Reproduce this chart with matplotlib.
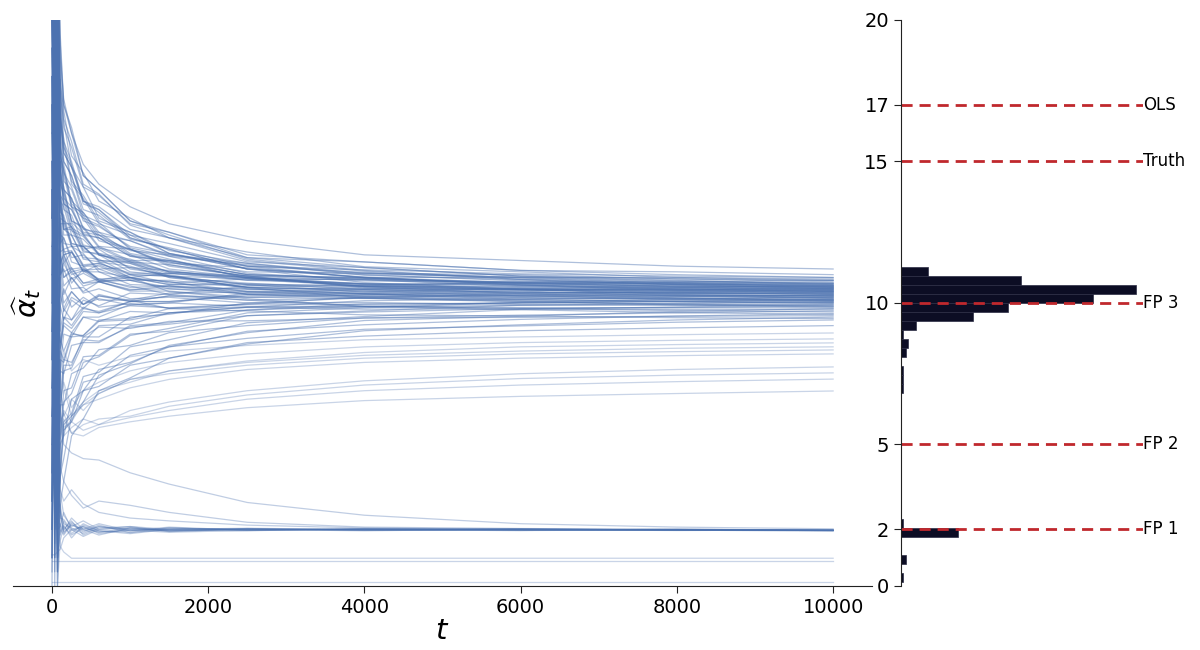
import numpy as np
import matplotlib.pyplot as plt

# sample times of the trajectories
t_grid = [0, 35, 70, 105, 150, 250, 400, 600, 1000, 1500, 2500, 4000, 6000, 8000, 10000]

# main band, ends between ~9.2 and ~11.2 (each row: values at t=35, 105, 150 ... 10000)
main_paths = [
    [21, 18.7, 17.2, 16.0, 14.9, 14.2, 13.4, 12.8, 12.2, 11.7, 11.5, 11.3, 11.2],
    [9, 16.6, 15.3, 14.8, 13.6, 13.4, 12.6, 12.3, 11.6, 11.45, 11.15, 11.1, 11.0],
    [23, 17.9, 16.2, 15.5, 14.1, 13.8, 12.8, 12.5, 11.7, 11.45, 11.15, 11.0, 10.9],
    [4, 13.6, 12.6, 12.7, 11.9, 12.0, 11.5, 11.5, 11.1, 11.05, 10.9, 10.9, 10.85],
    [17, 15.0, 14.5, 13.4, 13.2, 12.4, 12.2, 11.7, 11.4, 11.05, 11.0, 10.85, 10.8],
    [12, 8.6, 9.5, 9.4, 10.1, 9.9, 10.35, 10.3, 10.6, 10.6, 10.75, 10.75, 10.8],
    [2, 16.9, 15.3, 14.8, 13.5, 13.3, 12.4, 12.1, 11.45, 11.25, 10.95, 10.85, 10.75],
    [19, 12.3, 11.4, 11.8, 11.1, 11.35, 10.9, 11.05, 10.8, 10.85, 10.7, 10.72, 10.7],
    [7, 14.2, 13.9, 12.9, 12.7, 12.0, 11.9, 11.4, 11.25, 10.9, 10.9, 10.75, 10.7],
    [14, 19.2, 17.0, 16.0, 14.5, 14.0, 12.9, 12.5, 11.6, 11.25, 10.95, 10.8, 10.65],
    [5, 10.8, 11.6, 10.7, 11.2, 10.8, 11.0, 10.7, 10.85, 10.65, 10.7, 10.66, 10.65],
    [22, 13.9, 12.8, 12.8, 12.0, 11.95, 11.45, 11.35, 10.95, 10.9, 10.72, 10.67, 10.62],
    [11, 15.9, 14.3, 14.0, 12.9, 12.7, 12.0, 11.75, 11.2, 11.0, 10.78, 10.68, 10.6],
    [16, 7.7, 8.9, 8.8, 9.5, 9.5, 9.95, 10.0, 10.35, 10.38, 10.52, 10.56, 10.6],
    [3, 12.1, 12.3, 11.6, 11.7, 11.2, 11.25, 10.95, 10.85, 10.68, 10.66, 10.6, 10.58],
    [20, 16.5, 15.8, 14.3, 13.8, 12.9, 12.5, 11.85, 11.4, 10.98, 10.82, 10.65, 10.55],
    [8, 14.8, 13.5, 13.3, 12.4, 12.3, 11.65, 11.45, 11.0, 10.88, 10.68, 10.6, 10.55],
    [13, 9.9, 9.4, 10.1, 9.8, 10.25, 10.1, 10.35, 10.38, 10.47, 10.47, 10.5, 10.52],
    [18, 13.0, 12.9, 12.1, 12.0, 11.5, 11.4, 11.05, 10.9, 10.68, 10.62, 10.55, 10.5],
    [6, 19.5, 17.0, 16.2, 14.5, 14.0, 12.9, 12.4, 11.55, 11.15, 10.83, 10.65, 10.5],
    [1, 11.2, 10.3, 10.9, 10.4, 10.75, 10.45, 10.6, 10.48, 10.52, 10.49, 10.48, 10.48],
    [24, 15.5, 14.0, 13.7, 12.6, 12.5, 11.75, 11.5, 11.0, 10.83, 10.63, 10.55, 10.45],
    [10, 6.2, 7.8, 7.8, 8.8, 8.8, 9.5, 9.6, 10.0, 10.18, 10.32, 10.4, 10.45],
    [15, 12.9, 11.9, 12.0, 11.35, 11.4, 11.0, 10.95, 10.65, 10.62, 10.48, 10.45, 10.42],
    [0.5, 16.2, 14.6, 14.1, 13.0, 12.75, 11.95, 11.65, 11.05, 10.82, 10.58, 10.5, 10.4],
    [21, 8.4, 9.5, 9.2, 9.8, 9.7, 10.05, 10.05, 10.25, 10.28, 10.36, 10.38, 10.4],
    [9.5, 13.6, 13.4, 12.4, 12.25, 11.7, 11.5, 11.1, 10.9, 10.62, 10.52, 10.44, 10.38],
    [17.5, 17.6, 15.7, 15.0, 13.6, 13.3, 12.3, 11.9, 11.2, 10.9, 10.63, 10.45, 10.35],
    [4.5, 11.7, 10.9, 11.2, 10.7, 10.85, 10.55, 10.6, 10.42, 10.42, 10.36, 10.35, 10.33],
    [12.5, 14.4, 14.0, 12.9, 12.65, 11.95, 11.7, 11.2, 10.9, 10.58, 10.47, 10.37, 10.3],
    [2.5, 7.6, 7.5, 8.5, 8.6, 9.2, 9.25, 9.65, 9.85, 10.08, 10.14, 10.23, 10.28],
    [19.5, 11.4, 11.7, 11.0, 11.15, 10.75, 10.8, 10.55, 10.5, 10.33, 10.31, 10.27, 10.25],
    [7.5, 15.2, 14.7, 13.4, 13.0, 12.2, 11.9, 11.35, 10.95, 10.58, 10.47, 10.33, 10.25],
    [14.5, 4.8, 6.5, 6.8, 7.9, 8.1, 8.85, 9.1, 9.65, 9.83, 10.02, 10.14, 10.22],
    [23.5, 13.5, 12.4, 12.4, 11.6, 11.55, 11.0, 10.95, 10.55, 10.47, 10.31, 10.25, 10.2],
    [11.5, 17.4, 16.4, 14.8, 14.1, 13.0, 12.5, 11.75, 11.2, 10.72, 10.48, 10.3, 10.18],
    [6.5, 10.6, 9.8, 10.4, 9.95, 10.3, 10.05, 10.25, 10.1, 10.18, 10.14, 10.16, 10.15],
    [16.5, 14.1, 12.9, 12.7, 11.85, 11.7, 11.1, 10.95, 10.55, 10.42, 10.25, 10.18, 10.12],
    [20.5, 8.3, 8.0, 8.9, 8.85, 9.35, 9.4, 9.65, 9.75, 9.97, 9.99, 10.06, 10.1],
    [3.5, 11.8, 11.9, 11.2, 11.25, 10.8, 10.8, 10.5, 10.4, 10.23, 10.19, 10.13, 10.1],
    [13.5, 16.9, 15.0, 14.5, 13.1, 12.85, 11.9, 11.55, 10.85, 10.58, 10.33, 10.18, 10.08],
    [8.5, 5.3, 6.9, 7.0, 8.1, 8.15, 8.9, 9.0, 9.55, 9.72, 9.92, 9.98, 10.05],
    [22.5, 12.8, 11.8, 11.85, 11.1, 11.1, 10.65, 10.6, 10.3, 10.22, 10.11, 10.07, 10.03],
    [1.5, 9.0, 9.8, 9.4, 9.85, 9.65, 9.9, 9.83, 9.96, 9.95, 10.0, 10.0, 10.01],
    [18.5, 14.8, 13.3, 13.1, 12.05, 11.9, 11.2, 11.0, 10.5, 10.32, 10.13, 10.05, 9.98],
    [10.5, 4.0, 5.8, 6.1, 7.4, 7.55, 8.45, 8.7, 9.3, 9.52, 9.77, 9.86, 9.95],
    [5.5, 11.5, 10.6, 10.9, 10.35, 10.5, 10.15, 10.2, 10.0, 10.02, 9.94, 9.92, 9.9],
    [15.5, 6.7, 8.0, 7.9, 8.7, 8.65, 9.15, 9.25, 9.55, 9.68, 9.8, 9.84, 9.88],
    [0, 14.6, 14.1, 12.85, 12.45, 11.7, 11.4, 10.9, 10.55, 10.18, 10.06, 9.93, 9.85],
    [19, 3.9, 4.5, 6.0, 6.5, 7.45, 7.85, 8.5, 8.95, 9.38, 9.53, 9.7, 9.8],
    [12, 9.9, 10.5, 9.85, 10.2, 9.85, 9.98, 9.82, 9.84, 9.78, 9.79, 9.77, 9.76],
    [3, 6.4, 6.4, 7.5, 7.7, 8.35, 8.5, 8.95, 9.2, 9.47, 9.57, 9.65, 9.72],
    [24, 12.4, 12.3, 11.45, 11.3, 10.8, 10.6, 10.3, 10.1, 9.88, 9.81, 9.73, 9.68],
    [7, 4.1, 5.7, 6.0, 7.2, 7.35, 8.15, 8.45, 9.0, 9.23, 9.42, 9.54, 9.62],
    [17, 8.7, 8.3, 8.95, 8.8, 9.15, 9.1, 9.35, 9.37, 9.47, 9.49, 9.53, 9.55],
    [11, 2.9, 3.7, 5.3, 5.9, 6.9, 7.35, 8.05, 8.55, 9.02, 9.23, 9.4, 9.5],
    [21.5, 11.0, 11.2, 10.5, 10.55, 10.1, 10.1, 9.8, 9.72, 9.58, 9.54, 9.48, 9.45],
    [14, 5.0, 5.3, 6.6, 6.9, 7.65, 7.9, 8.45, 8.75, 9.07, 9.19, 9.32, 9.4],
    [2, 3.8, 5.5, 5.8, 6.9, 7.05, 7.8, 8.05, 8.6, 8.83, 9.02, 9.12, 9.2],
    [18, 14.7, 13.5, 13.3, 12.5, 12.4, 11.85, 11.7, 11.3, 11.17, 11.03, 10.95, 10.9],
    [23, 17.8, 16.8, 15.2, 14.6, 13.6, 13.0, 12.3, 11.8, 11.28, 11.1, 10.9, 10.8],
    [9, 15.2, 14.7, 13.6, 13.2, 12.5, 12.2, 11.65, 11.35, 11.03, 10.92, 10.78, 10.7],
    [2, 12.5, 11.7, 11.8, 11.3, 11.4, 11.05, 11.05, 10.87, 10.82, 10.74, 10.7, 10.68],
    [16, 16.7, 15.0, 14.5, 13.3, 13.1, 12.25, 11.95, 11.3, 11.08, 10.84, 10.72, 10.63],
    [11, 12.8, 12.8, 12.0, 12.0, 11.5, 11.45, 11.1, 10.95, 10.78, 10.72, 10.64, 10.6],
    [20, 18.6, 16.5, 15.7, 14.2, 13.85, 12.75, 12.3, 11.5, 11.12, 10.88, 10.7, 10.57],
    [6, 11.0, 11.4, 10.85, 11.05, 10.75, 10.9, 10.65, 10.68, 10.58, 10.59, 10.56, 10.55],
    [25, 15.0, 13.7, 13.4, 12.45, 12.3, 11.65, 11.5, 11.0, 10.87, 10.68, 10.6, 10.52],
    [13, 8.3, 9.3, 9.1, 9.7, 9.65, 10.05, 10.05, 10.3, 10.33, 10.43, 10.47, 10.5],
    [3, 16.3, 15.6, 14.2, 13.7, 12.8, 12.4, 11.75, 11.3, 10.88, 10.72, 10.57, 10.47],
    [17, 13.7, 12.6, 12.6, 11.8, 11.75, 11.25, 11.15, 10.8, 10.67, 10.54, 10.5, 10.45],
    [8, 11.4, 11.7, 11.1, 11.2, 10.85, 10.9, 10.65, 10.63, 10.52, 10.47, 10.45, 10.43],
    [22, 17.4, 15.5, 14.9, 13.6, 13.2, 12.3, 11.9, 11.2, 10.92, 10.64, 10.5, 10.4],
    [12, 8.0, 7.9, 8.8, 8.85, 9.4, 9.45, 9.8, 9.95, 10.22, 10.25, 10.33, 10.37],
    [4, 13.8, 13.6, 12.55, 12.35, 11.75, 11.55, 11.1, 10.9, 10.58, 10.51, 10.41, 10.35],
    [19, 12.6, 11.7, 11.8, 11.15, 11.2, 10.8, 10.8, 10.55, 10.47, 10.38, 10.35, 10.32],
    [10, 15.6, 14.0, 13.7, 12.65, 12.4, 11.7, 11.45, 10.9, 10.67, 10.48, 10.38, 10.3],
    [15, 10.3, 9.7, 10.2, 9.95, 10.25, 10.05, 10.25, 10.2, 10.27, 10.25, 10.27, 10.27],
    [21, 13.2, 13.1, 12.1, 12.0, 11.45, 11.3, 10.9, 10.7, 10.48, 10.38, 10.29, 10.24],
    [1, 11.7, 10.9, 11.1, 10.6, 10.75, 10.48, 10.5, 10.32, 10.31, 10.24, 10.22, 10.2],
    [14, 15.5, 14.9, 13.5, 13.1, 12.3, 11.9, 11.3, 10.95, 10.53, 10.42, 10.25, 10.16],
    [7, 6.2, 7.6, 7.7, 8.6, 8.6, 9.2, 9.3, 9.75, 9.88, 10.02, 10.07, 10.13],
    [24, 13.1, 12.1, 12.05, 11.3, 11.3, 10.85, 10.75, 10.4, 10.32, 10.19, 10.14, 10.1],
    [9, 14.2, 13.8, 12.65, 12.4, 11.7, 11.45, 10.95, 10.65, 10.38, 10.26, 10.13, 10.06],
    [16, 11.9, 11.1, 11.25, 10.7, 10.75, 10.42, 10.42, 10.2, 10.16, 10.08, 10.05, 10.02],
    [5, 8.4, 9.2, 8.95, 9.5, 9.35, 9.7, 9.65, 9.85, 9.85, 9.92, 9.94, 9.96],
    [18, 13.8, 12.6, 12.4, 11.55, 11.45, 10.9, 10.75, 10.3, 10.17, 10.04, 9.96, 9.9],
    [11, 10.9, 10.0, 10.4, 9.95, 10.15, 9.92, 10.0, 9.88, 9.88, 9.84, 9.83, 9.82],
    [20, 13.3, 13.0, 12.0, 11.75, 11.1, 10.9, 10.4, 10.15, 9.88, 9.76, 9.66, 9.6],
]
main_t0 = [24, 5, 16, 22, 10, 1, 19, 7, 25, 13, 18, 3, 21, 9, 15, 23, 6, 12, 20, 2,
           17, 8, 24, 11, 14, 4, 22, 0.5, 18, 9, 25, 13, 6, 20, 3, 16, 10, 23, 1, 14,
           19, 7, 21, 12, 4, 17, 24, 8, 15, 2, 20, 11, 6, 22, 13, 18, 3, 9, 25,
           12, 4, 21, 15, 8, 24, 1, 17, 10, 19, 5, 23, 14, 0, 20, 7, 16, 25, 3, 11,
           18, 6, 22, 13, 2, 20, 9, 24, 15, 7]
main_t70 = [22, 18, 12, 15, 6, 20, 24, 3, 16, 23, 9, 11, 21, 2, 17, 13, 22, 5, 8, 25,
            14, 19, 1, 10, 20, 7, 18, 21, 4, 16, 6, 12, 23, 0.5, 15, 24, 11, 19, 3, 13,
            22, 1.5, 9, 17, 20, 2.5, 14, 5, 21, 0, 8, 4, 18, 1, 10, 0.5, 16, 2, 3,
            21, 20, 17, 11, 22, 6, 24, 13, 15, 4, 19, 9, 18, 23, 2, 16, 7, 20, 12, 14,
            8, 21, 3, 12, 19, 6, 10, 17, 7, 15]

# slow group, ends between ~6.9 and ~8.9
mid_paths = [
    [12, 7.5, 8.3, 7.6, 8.0, 7.8, 8.1, 8.3, 8.5, 8.7, 8.8, 8.88, 8.94],
    [3, 6.5, 7.2, 6.3, 6.9, 7.2, 7.6, 7.9, 8.2, 8.45, 8.6, 8.68, 8.73],
    [16, 8.8, 7.0, 6.0, 6.4, 6.8, 7.3, 7.6, 7.95, 8.25, 8.45, 8.53, 8.59],
    [6, 5.5, 6.2, 5.8, 6.5, 6.9, 7.2, 7.6, 7.9, 8.15, 8.3, 8.4, 8.45],
    [14, 7.0, 6.0, 6.6, 6.2, 6.8, 7.3, 7.5, 7.8, 8.05, 8.2, 8.28, 8.34],
    [9, 6.2, 5.5, 5.9, 6.4, 6.6, 7.0, 7.3, 7.65, 7.9, 8.05, 8.14, 8.2],
    [2, 6.0, 5.3, 5.6, 5.9, 5.7, 6.2, 6.5, 6.9, 7.25, 7.5, 7.65, 7.74],
    [11, 5.8, 6.1, 5.4, 5.7, 5.9, 6.0, 6.35, 6.75, 7.1, 7.33, 7.45, 7.53],
    [18, 7.2, 5.6, 5.8, 5.5, 5.7, 5.95, 6.2, 6.6, 6.9, 7.1, 7.22, 7.31],
    [5, 5.2, 5.9, 5.4, 5.3, 5.6, 5.8, 6.0, 6.3, 6.55, 6.7, 6.8, 6.89],
]
mid_t0 = [18, 6, 23, 11, 2, 15, 21, 8, 13, 25]
mid_t70 = [5, 14, 9, 3, 10, 4, 8, 2, 12, 7]

# lower cluster around 2
low_paths = [
    [12, 6.0, 5.0, 4.7, 4.5, 4.45, 4.0, 3.6, 2.95, 2.5, 2.2, 2.08, 2.02],
    [8, 4.2, 3.7, 3.2, 2.75, 3.0, 2.85, 2.6, 2.25, 2.08, 2.03, 2.0, 1.98],
    [5, 3.4, 3.0, 3.4, 2.9, 2.6, 2.4, 2.3, 2.15, 2.05, 2.0, 1.98, 1.97],
    [14, 2.6, 2.2, 2.05, 1.85, 2.1, 1.95, 2.05, 1.98, 2.02, 1.97, 2.0, 1.97],
    [6, 2.2, 1.9, 2.15, 2.0, 1.8, 2.05, 1.95, 2.03, 1.97, 2.0, 1.98, 1.96],
    [20, 1.8, 2.3, 1.85, 2.2, 1.95, 1.9, 2.05, 1.97, 2.0, 2.02, 1.97, 1.95],
    [9, 2.9, 2.0, 2.3, 1.8, 2.05, 2.1, 1.92, 2.02, 1.98, 1.96, 2.01, 1.97],
    [3, 2.4, 2.35, 1.95, 2.1, 1.85, 2.0, 1.98, 1.95, 2.03, 1.99, 1.96, 1.98],
    [17, 2.0, 1.8, 2.2, 1.9, 2.15, 1.88, 2.02, 2.0, 1.95, 2.01, 1.99, 1.96],
    [11, 3.3, 2.5, 2.1, 2.3, 2.0, 2.1, 2.0, 2.04, 1.99, 1.97, 2.0, 1.97],
    [7, 1.6, 2.1, 1.8, 2.05, 1.9, 1.97, 1.9, 1.96, 2.0, 1.98, 1.97, 1.95],
    [22, 2.5, 1.95, 2.4, 2.0, 2.2, 1.95, 2.08, 1.97, 2.01, 2.0, 1.98, 1.96],
    [4, 2.1, 2.6, 2.0, 1.75, 2.0, 2.05, 1.96, 2.0, 1.97, 2.02, 1.99, 1.97],
    [13, 1.9, 2.15, 1.7, 2.15, 1.95, 1.85, 2.0, 2.02, 1.98, 1.96, 1.98, 1.96],
    [1, 2.7, 1.85, 2.25, 1.95, 2.1, 2.0, 1.94, 1.99, 2.02, 1.99, 1.97, 1.97],
    [1.1, 1.3, 1.7, 2.0, 2.1, 1.9, 2.05, 1.98, 2.01, 1.98, 2.0, 1.97, 1.96],
]
low_t0 = [14, 3, 20, 9, 24, 1, 17, 12, 22, 5, 19, 10, 25, 7, 16, 1.1]
low_t70 = [9, 6, 7, 4, 1, 5, 0.5, 6, 3, 8, 0, 4, 2, 1, 5, 1.2]

# paths stuck below the cluster
flat_paths = [
    [6, 1.4, 1.2, 0.98, 0.98, 0.98, 0.98, 0.98, 0.98, 0.98, 0.98, 0.98, 0.98],
    [0.87, 0.87, 0.87, 0.87, 0.87, 0.87, 0.87, 0.87, 0.87, 0.87, 0.87, 0.87, 0.87],
    [0.15, 0.15, 0.15, 0.15, 0.15, 0.15, 0.15, 0.15, 0.15, 0.15, 0.15, 0.15, 0.15],
]
flat_t0 = [13, 0.87, 0.15]
flat_t70 = [3, 0.87, 0.15]

# histogram of the final values
hist_lo = 0.157
hist_bw = 0.3172
hist_counts = [1, 0, 2, 0, 0, 23, 1, 0, 0, 0, 0, 0, 0, 0, 0, 0, 0, 0, 0, 0,
               0, 1, 1, 1, 0, 2, 3, 1, 6, 29, 43, 77, 94, 48, 11]

ref_values = [17, 15, 10, 5, 2]
ref_labels = ["OLS", "Truth", "FP 3", "FP 2", "FP 1"]
y_ticks = [0, 2, 5, 10, 15, 17, 20]

line_color = "#4c72b0"
bar_color = "#0c0d24"
ref_color = "#c0282d"

fig = plt.figure(figsize=(12, 6.5), dpi=100)
ax = fig.add_axes([0.0108, 0.0985, 0.716, 0.8708])
axh = fig.add_axes([0.7508, 0.0985, 0.2017, 0.8708])

# fewer paths than the original run, so the dense band gets a stronger alpha
groups = [
    (main_paths, main_t0, main_t70, 0.45),
    (mid_paths, mid_t0, mid_t70, 0.3),
    (low_paths, low_t0, low_t70, 0.35),
    (flat_paths, flat_t0, flat_t70, 0.3),
]
for rows, t0s, t70s, a in groups:
    for row, v0, v70 in zip(rows, t0s, t70s):
        vals = [v0, row[0], v70] + row[1:]
        ax.plot(t_grid, vals, color=line_color, lw=0.9, alpha=a)

ax.set_ylim(0, 20)
ax.margins(x=0.05)
ax.set_yticks([])
for s in ("left", "top", "right"):
    ax.spines[s].set_visible(False)
ax.spines["bottom"].set_color("#222222")
ax.tick_params(axis="x", labelsize=14, length=5, color="#222222")
ax.set_xticks([0, 2000, 4000, 6000, 8000, 10000])
ax.set_xlabel("$t$", fontsize=21, labelpad=0)
ax.set_ylabel(r"$\widehat{\alpha}_t$", fontsize=21)
ax.yaxis.set_label_coords(0.035, 0.5)

edges = hist_lo + hist_bw * np.arange(len(hist_counts))
axh.barh(edges, hist_counts, height=hist_bw, align="edge",
         color=bar_color, edgecolor="#2b2c44", linewidth=0.5)
for v, lab in zip(ref_values, ref_labels):
    axh.axhline(v, xmin=0, xmax=1, color=ref_color, ls="--", lw=2, dashes=(4, 2.5))
    axh.text(1.0, v, lab, transform=axh.get_yaxis_transform(),
             ha="left", va="center", fontsize=12)

axh.set_ylim(0, 20)
axh.set_xlim(0, 97)
axh.set_yticks(y_ticks)
axh.set_xticks([])
for s in ("top", "right", "bottom"):
    axh.spines[s].set_visible(False)
axh.spines["left"].set_color("#222222")
axh.tick_params(axis="y", labelsize=14, length=5, color="#222222")

fig.savefig("out.png", dpi=100)
